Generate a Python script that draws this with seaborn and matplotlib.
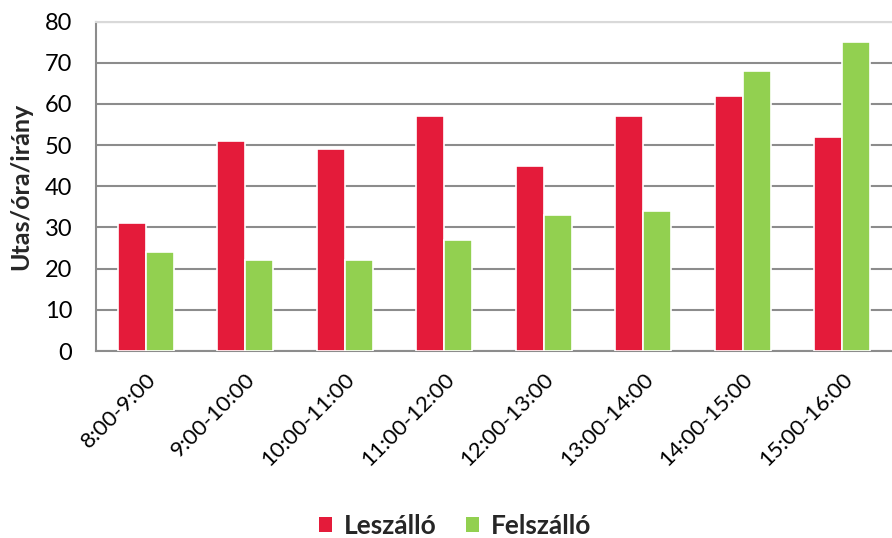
import matplotlib
matplotlib.use("Agg")
import matplotlib.pyplot as plt
import seaborn as sns
import pandas as pd
from matplotlib.patches import Patch

categories = ["8:00-9:00", "9:00-10:00", "10:00-11:00", "11:00-12:00",
              "12:00-13:00", "13:00-14:00", "14:00-15:00", "15:00-16:00"]
leszallo = [31, 51, 49, 57, 45, 57, 62, 52]
felszallo = [24, 22, 22, 27, 33, 34, 68, 75]
series_names = ["Leszálló", "Felszálló"]
yticks = [0, 10, 20, 30, 40, 50, 60, 70, 80]
colors = ["#E41B3A", "#92D050"]

df = pd.DataFrame({
    "cat": categories * 2,
    "val": leszallo + felszallo,
    "series": [series_names[0]] * len(categories) + [series_names[1]] * len(categories),
})

sns.set_theme(style="white")
plt.rcParams["font.family"] = ["Lato", "DejaVu Sans"]

fig = plt.figure(figsize=(8.92, 5.38), dpi=100)
ax = fig.add_axes([96 / 892, 1 - 351 / 538, 1 - 96 / 892, (351 - 21.5) / 538])

sns.barplot(data=df, x="cat", y="val", hue="series", palette=colors,
            saturation=1, width=0.56, edgecolor="white", linewidth=1.2, ax=ax,
            legend=False, zorder=3)

ax.set_ylim(0, 80)
ax.set_xlim(-0.5, len(categories) - 0.5)
ax.set_yticks(yticks)
ax.set_yticklabels([str(v) for v in yticks], fontsize=17)
ax.yaxis.grid(True, color="#8c8c8c", linewidth=1.5, zorder=0)
ax.set_axisbelow(True)
ax.tick_params(axis="y", length=0, pad=17, labelcolor="black")
ax.tick_params(axis="x", length=0, pad=13, labelcolor="black")
ax.set_xticks(range(len(categories)))
ax.set_xticklabels(categories, rotation=45, ha="right", rotation_mode="anchor", fontsize=16)
ax.set_xlabel("")
ax.set_ylabel("Utas/óra/irány", fontsize=18, fontweight="bold")
ax.yaxis.set_label_coords(-0.080, 0.5)

for s in ["left", "bottom"]:
    ax.spines[s].set_color("#8c8c8c")
    ax.spines[s].set_linewidth(1.5)
    ax.spines[s].set_visible(True)
ax.spines["top"].set_color("#d9d9d9")
ax.spines["top"].set_linewidth(1.5)
ax.spines["top"].set_visible(True)
ax.spines["right"].set_visible(False)

handles = [Patch(facecolor=c, edgecolor="none") for c in colors]
leg = fig.legend(handles, series_names, loc="center", bbox_to_anchor=(0.51, 0.023),
                 ncol=2, frameon=False, handlelength=0.5, handleheight=0.5,
                 handletextpad=0.45, columnspacing=1.1,
                 prop={"weight": "bold", "size": 19})

fig.savefig("out.png", dpi=100)
